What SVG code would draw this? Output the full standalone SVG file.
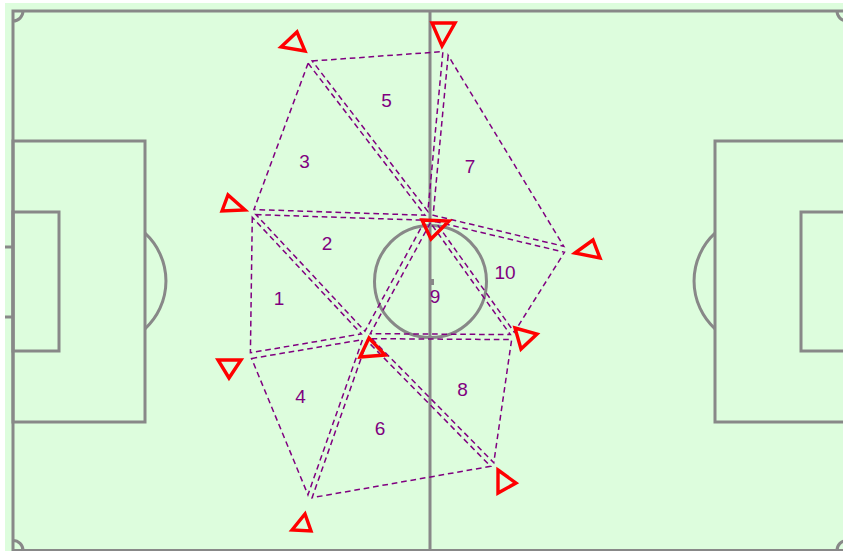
<svg xmlns="http://www.w3.org/2000/svg" width="843" height="551" viewBox="0 0 843 551">
  <defs>
    <style>
      .pitch { fill: none; stroke: #888888; stroke-width: 3; }
      .tri { fill: none; stroke: #800080; stroke-width: 1.6; stroke-dasharray: 6 4; }
      .player { fill: none; stroke: #ff0000; stroke-width: 3.4; stroke-linejoin: miter; }
      .lbl { fill: #800080; font-family: "Liberation Sans", Arial, sans-serif; font-size: 19px; text-anchor: middle; }
    </style>
  </defs>
  <rect x="0" y="0" width="843" height="551" fill="#ffffff"/>
  <rect x="5" y="3" width="838" height="548" fill="#ddfddd"/>

  <g id="pitch">
    <rect class="pitch" x="13" y="11" width="834" height="539.5"/>
    <line class="pitch" x1="430" y1="11" x2="430" y2="551"/>
    <circle class="pitch" cx="430.5" cy="281.5" r="56"/>
    <rect x="429" y="279" width="5" height="6" fill="#888888"/>
    <rect class="pitch" x="13" y="141" width="132" height="281"/>
    <rect class="pitch" x="13" y="212" width="46" height="139"/>
    <rect class="pitch" x="715" y="141" width="132" height="281"/>
    <rect class="pitch" x="801" y="212" width="46" height="139"/>
    <line class="pitch" x1="5" y1="247" x2="13" y2="247"/>
    <line class="pitch" x1="5" y1="317" x2="13" y2="317"/>
    <path class="pitch" d="M145,233.2 A65,65 0 0 1 145,328.8"/>
    <path class="pitch" d="M715,233.2 A65,65 0 0 0 715,328.8"/>
    <path class="pitch" d="M23,11 A10,10 0 0 1 13,21"/>
    <path class="pitch" d="M13,540.5 A10,10 0 0 1 23,550.5"/>
    <path class="pitch" d="M837,11 A10,10 0 0 0 847,21"/>
    <path class="pitch" d="M837,550.5 A10,10 0 0 1 847,540.5"/>
  </g>

  <g id="connectors">
    <polygon id="t1" class="tri" points="250,212 248,356 366,336" transform="translate(288 301.3) scale(0.94) translate(-288 -301.3)"/>
    <polygon id="t2" class="tri" points="250,212 430,218 366,336" transform="translate(348.7 255.3) scale(0.94) translate(-348.7 -255.3)"/>
    <polygon id="t3" class="tri" points="307,58 250,212 430,218" transform="translate(329 162.7) scale(0.95) translate(-329 -162.7)"/>
    <polygon id="t4" class="tri" points="248,356 366,336 308,501" transform="translate(307.3 397.7) scale(0.94) translate(-307.3 -397.7)"/>
    <polygon id="t5" class="tri" points="307,58 446,48 430,218" transform="translate(394.3 108) scale(0.94) translate(-394.3 -108)"/>
    <polygon id="t6" class="tri" points="366,336 308,501 496,468" transform="translate(390 435) scale(0.95) translate(-390 -435)"/>
    <polygon id="t7" class="tri" points="446,48 430,218 569,251" transform="translate(481.7 172.3) scale(0.94) translate(-481.7 -172.3)"/>
    <polygon id="t8" class="tri" points="366,336 515,337 496,468" transform="translate(459 380.3) scale(0.94) translate(-459 -380.3)"/>
    <polygon id="t9" class="tri" points="430,218 366,336 515,337" transform="translate(437 297) scale(0.94) translate(-437 -297)"/>
    <polygon id="t10" class="tri" points="430,218 569,251 515,337" transform="translate(504.7 268.7) scale(0.93) translate(-504.7 -268.7)"/>
  </g>

  <g id="labels">
    <text class="lbl" x="279" y="305">1</text>
    <text class="lbl" x="327" y="250">2</text>
    <text class="lbl" x="304.5" y="168">3</text>
    <text class="lbl" x="300.5" y="403">4</text>
    <text class="lbl" x="386.5" y="107">5</text>
    <text class="lbl" x="380" y="435">6</text>
    <text class="lbl" x="470" y="173">7</text>
    <text class="lbl" x="462.5" y="396">8</text>
    <text class="lbl" x="435" y="303">9</text>
    <text class="lbl" x="505" y="279">10</text>
  </g>

  <g id="player-a"><polygon class="player" points="281,47 297,32 305,51"/></g>
  <g id="player-b"><polygon class="player" points="432,23 455,23 442,46"/></g>
  <g id="player-c"><polygon class="player" points="222,211 228,195 245,210"/></g>
  <g id="player-d"><polygon class="player" points="422,220 449,221 431,239"/></g>
  <g id="player-e"><polygon class="player" points="575,253 593,240 600,258"/></g>
  <g id="player-f"><polygon class="player" points="218,360 241,360 229,378"/></g>
  <g id="player-g"><polygon class="player" points="360,357 369,338 385,355"/></g>
  <g id="player-h"><polygon class="player" points="515,328 537,334 521,349"/></g>
  <g id="player-i"><polygon class="player" points="498,470 516,483 498,493"/></g>
  <g id="player-j"><polygon class="player" points="292,530 305,514 311,531"/></g>
</svg>
